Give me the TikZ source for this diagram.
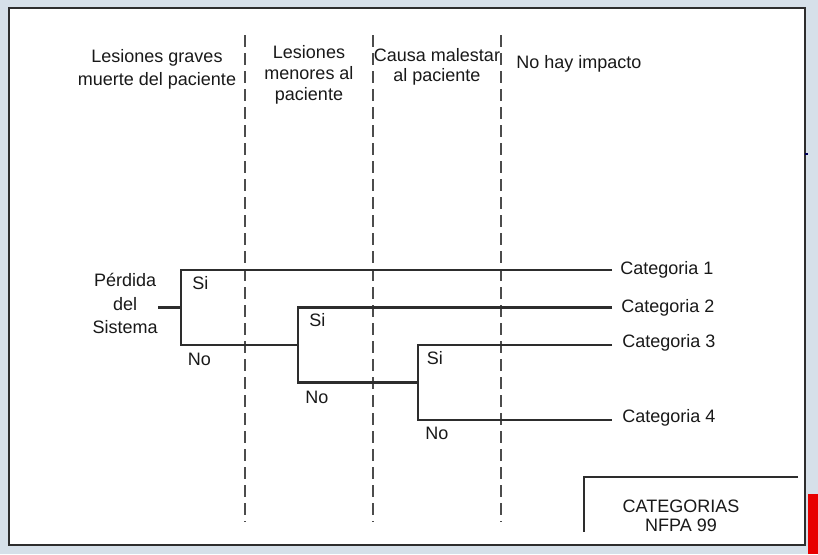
\documentclass[tikz,border=0pt]{standalone}
\usepackage{fontspec}
\setmainfont{Liberation Sans}
\usetikzlibrary{positioning}
\definecolor{bgblue}{RGB}{214,224,233}
\definecolor{ink}{RGB}{45,45,45}
\definecolor{barred}{RGB}{232,0,0}
\begin{document}
\begin{tikzpicture}[x=0.75pt,y=-0.75pt,
		branch/.style={draw=ink,line width=2.1pt,line join=miter},
		divider/.style={draw=ink!85,line width=1.1pt,dash pattern=on 9pt off 4.5pt},
		lbl/.style={inner sep=0pt,text=black!90,font=\fontsize{13.5}{17}\selectfont},
		hdr/.style={lbl,align=center}]
		\useasboundingbox (0,0) rectangle (818,554);
		\fill[bgblue] (0,0) rectangle (818,554);
		\draw[draw=ink,fill=white,line width=2.1pt] (9,8) rectangle (805,545);
		\fill[barred] (808,494) rectangle (818,554);
		\draw[draw=blue!35!black,line width=1.5pt] (805,154) -- (808,154);
		
		% columns
		\foreach \x in {245,373,501}
			\draw[divider] (\x,35) -- (\x,522);
		\node[hdr] (h1) at (157,69.5) {Lesiones graves\\muerte del paciente};
		\node[hdr,font=\fontsize{13.5}{15.75}\selectfont] (h2) at (309,75) {Lesiones\\menores al\\paciente};
		\node[hdr,font=\fontsize{13.5}{15}\selectfont] (h3) at (437,67) {Causa malestar\\al paciente};
		\node[lbl,anchor=west] (h4) at (516,64) {No hay impacto};
		
		% tree
		\coordinate (s0) at (158,307.5);
		\coordinate [right=17.25pt of s0] (r1);
		\coordinate [above=28.125pt of r1] (a1);
		\coordinate [below=28.125pt of r1] (b1);
		\coordinate [right=87.75pt of b1] (r2);
		\coordinate [above=28.125pt of r2] (a2);
		\coordinate [below=28.125pt of r2] (b2);
		\coordinate [right=90pt of b2] (r3);
		\coordinate [above=28.125pt of r3] (a3);
		\coordinate [below=28.125pt of r3] (b3);
		\coordinate [right=323.25pt of a1] (e1);
		\coordinate [right=235.5pt of a2] (e2);
		\coordinate [right=145.5pt of a3] (e3);
		\coordinate [right=145.5pt of b3] (e4);
		
		\draw[branch] (s0) -- (r1);
		\draw[branch] (e1) -- (a1) -- (b1) -- (r2);
		\draw[branch] (e2) -- (a2) -- (b2) -- (r3);
		\draw[branch] (e3) -- (a3) -- (b3) -- (e4);
		
		\node[hdr,font=\fontsize{13.5}{17.5}\selectfont,left=0pt of s0,yshift=3pt] (p) {Pérdida\\del\\Sistema};
		\node[lbl,below right=4.5pt and 8.25pt of a1] (si1) {Si};
		\node[lbl,below right=4.5pt and 8.25pt of a2] (si2) {Si};
		\node[lbl,below right=4.5pt and 6.5pt of a3] (si3) {Si};
		\node[lbl,below right=6pt and 5pt of b1] (no1) {No};
		\node[lbl,below right=6pt and 5.25pt of b2] (no2) {No};
		\node[lbl,below right=5.25pt and 5.25pt of b3] (no3) {No};
		\node[lbl,right=6pt of e1] (c1) {Categoria 1};
		\node[lbl,right=6.75pt of e2] (c2) {Categoria 2};
		\node[lbl,right=7.5pt of e3,yshift=1.5pt] (c3) {Categoria 3};
		\node[lbl,right=7.5pt of e4,yshift=1.5pt] (c4) {Categoria 4};
		
		% legend
		\coordinate (k0) at (798,477);
		\coordinate (k1) at (584,532);
		\draw[branch] (k0) -| (k1);
		\node[hdr,font=\fontsize{13.5}{14.25}\selectfont] (cat) at (681,515.5) {CATEGORIAS\\NFPA 99};
	\end{tikzpicture}
\end{document}
